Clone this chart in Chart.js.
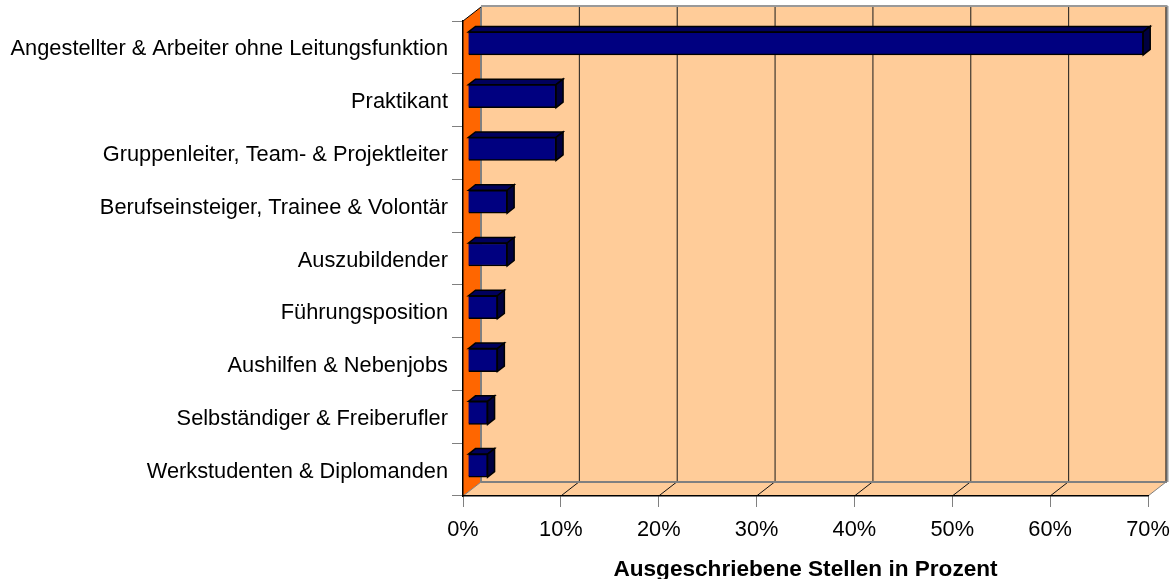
<!DOCTYPE html>
<html>
<head>
<meta charset="utf-8">
<style>html,body{margin:0;padding:0;background:#fff}canvas{display:block}</style>
<script src="https://cdn.jsdelivr.net/npm/chart.js@4/dist/chart.umd.min.js"></script>
</head>
<body>
<canvas id="c" width="1171" height="579"></canvas>
<script>
const categories = [
  "Angestellter & Arbeiter ohne Leitungsfunktion",
  "Praktikant",
  "Gruppenleiter, Team- & Projektleiter",
  "Berufseinsteiger, Trainee & Volontär",
  "Auszubildender",
  "Führungsposition",
  "Aushilfen & Nebenjobs",
  "Selbständiger & Freiberufler",
  "Werkstudenten & Diplomanden"
];
const values = [69, 9, 9, 4, 4, 3, 3, 2, 2];
const axisTitle = "Ausgeschriebene Stellen in Prozent";
const FONT = '"Liberation Sans", Arial, sans-serif';
const DX = 18, DY = 14;          // depth of the 3D box
const BAR_SHIFT = [5, -4];       // bars stand inside the box
const BAR_D = [7, 5.5];          // depth of a bar

function poly(ctx, pts, fill, stroke, lw) {
  ctx.beginPath();
  pts.forEach((p, i) => i ? ctx.lineTo(p[0], p[1]) : ctx.moveTo(p[0], p[1]));
  ctx.closePath();
  if (fill) { ctx.fillStyle = fill; ctx.fill(); }
  if (stroke) { ctx.strokeStyle = stroke; ctx.lineWidth = lw || 1; ctx.stroke(); }
}
function line(ctx, x0, y0, x1, y1, color, lw) {
  ctx.beginPath(); ctx.moveTo(x0, y0); ctx.lineTo(x1, y1);
  ctx.strokeStyle = color; ctx.lineWidth = lw || 1; ctx.stroke();
}

const box3d = {
  id: 'box3d',
  beforeDatasetsDraw(chart) {
    const { ctx, chartArea: a, scales: { x } } = chart;
    const L = a.left, R = a.right, T = a.top, B = a.bottom;
    ctx.save();
    // back wall
    poly(ctx, [[L + DX, T - DY], [R + DX, T - DY], [R + DX, B - DY], [L + DX, B - DY]], '#FFCC99');
    // floor
    poly(ctx, [[L, B], [L + DX, B - DY], [R + DX, B - DY], [R, B]], '#FFCC99');
    // left wall
    poly(ctx, [[L, T], [L + DX, T - DY], [L + DX, B - DY], [L, B]], '#FF6600');
    // grid lines on wall and floor
    x.ticks.forEach(t => {
      const px = x.getPixelForValue(t.value);
      if (t.value > 0 && t.value < 70) {
        line(ctx, px + DX + 0.5, T - DY, px + DX + 0.5, B - DY, '#1a1a1a', 1);
      }
      if (t.value > 0) line(ctx, px, B, px + DX, B - DY, t.value === 70 ? '#808080' : '#111111', 1);
    });
    // frame of wall
    line(ctx, L + DX, T - DY - 1, R + DX + 1.5, T - DY - 1, '#999999', 2);
    line(ctx, R + DX + 1.5, T - DY - 1, R + DX + 1.5, B - DY, '#999999', 2);
    line(ctx, R + DX, T - DY, R + DX, B - DY, '#000000', 1);
    line(ctx, L + DX, T - DY, L + DX, B - DY, '#808080', 2);
    line(ctx, L + DX, B - DY, R + DX + 1, B - DY, '#808080', 2);
    line(ctx, L, B, L + DX, B - DY, '#808080', 1);
    line(ctx, L, T, L + DX, T - DY, '#000000', 1);
    ctx.restore();
  },
  beforeDatasetDraw(chart, args) {
    const ctx = chart.ctx;
    ctx.save();
    ctx.translate(BAR_SHIFT[0], BAR_SHIFT[1]);
    chart.getDatasetMeta(args.index).data.forEach(el => {
      const x0 = el.base, x1 = el.x, y0 = el.y - el.height / 2, y1 = el.y + el.height / 2;
      poly(ctx, [[x0, y0], [x0 + BAR_D[0], y0 - BAR_D[1]], [x1 + BAR_D[0], y0 - BAR_D[1]], [x1, y0]], '#00005C', '#000000', 1.5);
      poly(ctx, [[x1, y0], [x1 + BAR_D[0], y0 - BAR_D[1]], [x1 + BAR_D[0], y1 - BAR_D[1]], [x1, y1]], '#000040', '#000000', 1.5);
    });
  },
  afterDatasetDraw(chart) {
    chart.ctx.restore();
  }
};

new Chart(document.getElementById('c'), {
  type: 'bar',
  data: {
    labels: categories,
    datasets: [{
      data: values,
      backgroundColor: '#000080',
      borderColor: '#000000',
      borderWidth: 1.5,
      barThickness: 23,
      clip: false
    }]
  },
  plugins: [box3d],
  options: {
    indexAxis: 'y',
    responsive: false,
    animation: false,
    events: [],
    layout: { padding: { top: 21, right: 23, left: 0, bottom: 0 } },
    plugins: { legend: { display: false }, tooltip: { enabled: false }, title: { display: false } },
    scales: {
      x: {
        min: 0, max: 70,
        afterFit(s) { s.height = 83; s.paddingLeft = 0; s.paddingRight = 0; },
        border: { color: '#000000', width: 1.5, z: 1 },
        grid: { drawOnChartArea: false, drawTicks: true, tickLength: 11, color: '#808080', lineWidth: 1 },
        ticks: {
          stepSize: 10, autoSkip: false, maxRotation: 0, padding: 10,
          color: '#000000', font: { family: FONT, size: 21.8 },
          callback: v => v + '%'
        },
        title: {
          display: true, text: axisTitle, color: '#000000', padding: { top: 10, bottom: -2 },
          font: { family: FONT, size: 22.6, weight: 'bold', lineHeight: 1 }
        }
      },
      y: {
        afterFit(s) { s.width = 463; s.paddingTop = 0; s.paddingBottom = 0; },
        border: { color: '#000000', width: 1.5, z: 1 },
        grid: { drawOnChartArea: false, drawTicks: true, tickLength: 11, color: '#808080', lineWidth: 1 },
        ticks: {
          autoSkip: false, maxRotation: 0, padding: 4, labelOffset: 2,
          color: '#000000', font: { family: FONT, size: 21.8 }
        }
      }
    }
  }
});
</script>
</body>
</html>
